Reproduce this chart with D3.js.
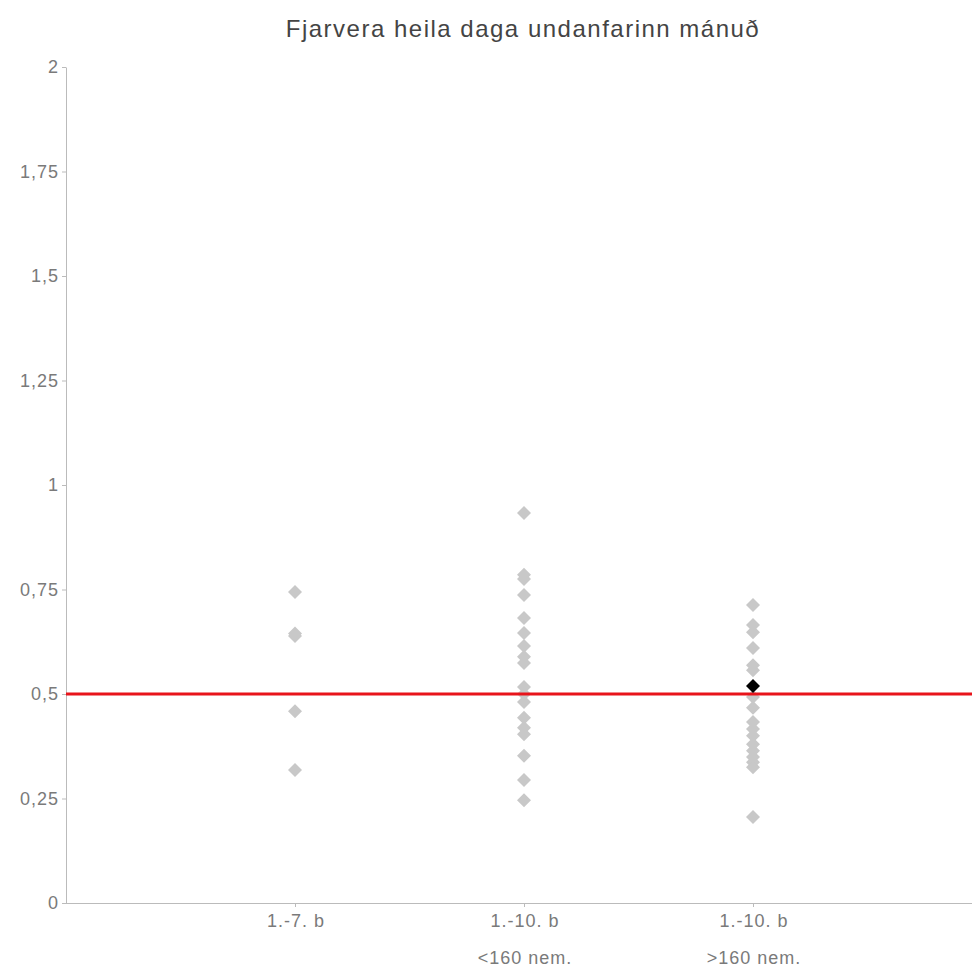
<!DOCTYPE html>
<html>
<head>
<meta charset="utf-8">
<script src="https://cdn.jsdelivr.net/npm/d3@7"></script>
<style>
  html, body { margin: 0; padding: 0; background: #fff; }
  svg { display: block; font-family: "Liberation Sans", Arial, sans-serif; }
</style>
</head>
<body>
<svg id="chart" width="972" height="969"></svg>
<script>
// ---- Data ----
const title = "Fjarvera heila daga undanfarinn mánuð";
const categories = ["1.-7. b", "1.-10. b\n<160 nem.", "1.-10. b\n>160 nem."];
const group1 = [0.744, 0.645, 0.639, 0.459, 0.318];
const group2 = [0.933, 0.785, 0.775, 0.737, 0.682, 0.646, 0.615, 0.589, 0.574, 0.517, 0.500, 0.481, 0.443, 0.419, 0.404, 0.352, 0.294, 0.246];
const group3 = [0.713, 0.665, 0.648, 0.610, 0.569, 0.557, 0.493, 0.467, 0.433, 0.416, 0.400, 0.380, 0.364, 0.349, 0.337, 0.325, 0.206];
const highlight = { group: 2, value: 0.519 };
const referenceValue = 0.5;
const yTicks = [0, 0.25, 0.5, 0.75, 1, 1.25, 1.5, 1.75, 2];

// ---- Layout ----
const svg = d3.select("#chart");
const W = 972, H = 969;
const margin = { left: 66, top: 67 };
const plotBottom = 903;

const x = d3.scaleLinear().domain([0, 4]).range([margin.left, margin.left + 229 * 4]);
const y = d3.scaleLinear().domain([0, 2]).range([plotBottom, margin.top]);

const fmt = v => String(v).replace(".", ",");
const FONT = "'Liberation Sans', Arial, sans-serif";

// Title
svg.append("text")
  .attr("x", 523).attr("y", 37)
  .attr("text-anchor", "middle")
  .attr("font-size", 24)
  .attr("letter-spacing", 1.5)
  .attr("font-family", FONT)
  .attr("fill", "#444")
  .text(title);

// Y axis
const yAxis = svg.append("g")
  .attr("transform", `translate(${margin.left},0)`)
  .call(d3.axisLeft(y).tickValues(yTicks).tickFormat(fmt).tickSize(4).tickSizeOuter(0).tickPadding(3));
yAxis.select(".domain").attr("stroke", "#bbb");
yAxis.selectAll(".tick line").attr("stroke", "#bbb");
yAxis.selectAll(".tick text").attr("fill", "#7a7a7a").attr("font-size", 18)
  .attr("letter-spacing", 1)
  .attr("font-family", FONT);

// X axis
const xAxis = svg.append("g")
  .attr("transform", `translate(0,${plotBottom})`)
  .call(d3.axisBottom(x).tickValues([1, 2, 3]).tickFormat("").tickSize(4).tickSizeOuter(0));
xAxis.select(".domain").attr("stroke", "#bbb").attr("d", `M${margin.left},0.5H${W}`);
xAxis.selectAll(".tick line").attr("stroke", "#bbb");

categories.forEach((c, i) => {
  const lines = c.split("\n");
  lines.forEach((ln, j) => {
    svg.append("text")
      .attr("x", x(i + 1) + 1)
      .attr("y", plotBottom + 24 + j * 37)
      .attr("text-anchor", "middle")
      .attr("font-size", 18)
      .attr("letter-spacing", 1)
      .attr("font-family", FONT)
      .attr("fill", "#7a7a7a")
      .text(ln);
  });
});

// Diamonds
const diamond = r => `M0,${-r}L${r},0L0,${r}L${-r},0Z`;
const groups = [group1, group2, group3];
const pts = [];
groups.forEach((g, i) => g.forEach(v => pts.push({ cat: i + 1, v })));

svg.append("g").selectAll("path").data(pts).join("path")
  .attr("d", diamond(7))
  .attr("transform", d => `translate(${x(d.cat)},${y(d.v)})`)
  .attr("fill", "#c8c8c8");

// Reference line
svg.append("line")
  .attr("x1", margin.left).attr("x2", W)
  .attr("y1", y(referenceValue)).attr("y2", y(referenceValue))
  .attr("stroke", "#e8141b").attr("stroke-width", 3);

// Highlight
svg.append("path")
  .attr("d", diamond(7))
  .attr("transform", `translate(${x(highlight.group + 1)},${y(highlight.value)})`)
  .attr("fill", "#000");
</script>
</body>
</html>
